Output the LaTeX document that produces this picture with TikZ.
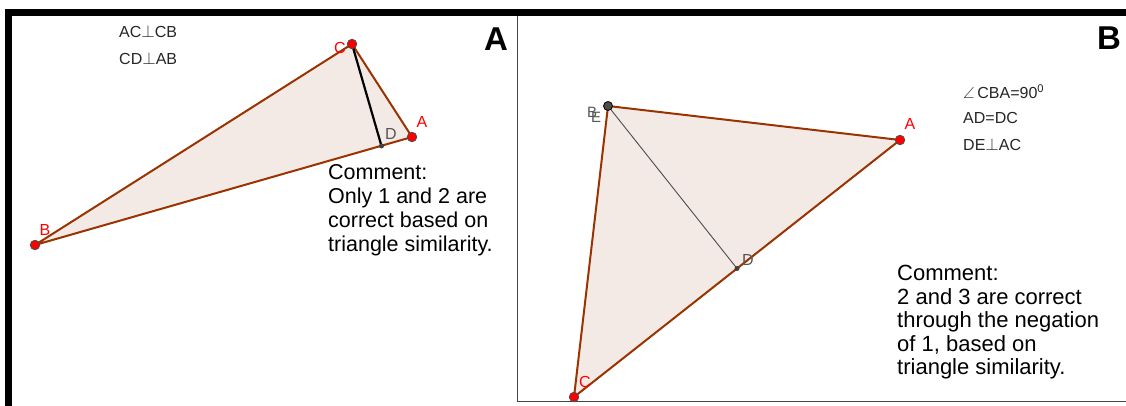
\documentclass[tikz,border=0pt]{standalone}
\usepackage{amsmath, amssymb}
\usepackage{fontspec}
\setmainfont{Liberation Sans}
\usepackage{xcolor}
\usepackage{tikz}
\definecolor{brunligne}{RGB}{153, 51, 0}
\definecolor{rosepale}{RGB}{244, 234, 229}
\definecolor{rougepoint}{RGB}{255, 0, 0}
\definecolor{grisetiquette}{RGB}{85, 85, 85}
\definecolor{griscadre}{RGB}{70, 70, 70}

\begin{document}
\begin{tikzpicture}[x=1pt, y=-1pt,
  cote/.style={draw=brunligne, line width=2pt, fill=rosepale, line join=round},
  pointrouge/.style={circle, draw=black!70, fill=rougepoint, line width=0.8pt,
                     inner sep=0pt, minimum size=9.5pt},
  pointsombre/.style={circle, draw=black, fill=black!70, line width=0.8pt,
                      inner sep=0pt, minimum size=9pt},
  pointpetit/.style={circle, fill=black!75, inner sep=0pt, minimum size=5pt},
  lettrerouge/.style={text=rougepoint, font=\fontsize{16}{16}\selectfont, inner sep=0pt},
  lettregrise/.style={text=grisetiquette, font=\fontsize{16}{16}\selectfont, inner sep=0pt},
  hypothese/.style={anchor=base west, inner sep=0pt, text=black!85,
                    font=\fontsize{16}{16}\selectfont},
  commentaire/.style={anchor=north west, inner sep=0pt, align=left},
  titre/.style={anchor=base, inner sep=0pt, font=\fontsize{33}{33}\selectfont\bfseries}]
  \useasboundingbox (0,0) rectangle (1126,406);

  % cadre
  \fill[black] (5,9) rectangle (1126,16);
  \fill[black] (5,9) rectangle (12,406);
  \draw[griscadre, line width=1pt] (517,16) -- (517,401.5) -- (1126,401.5);

  % figure A
  \coordinate (Ca) at (352,44);
  \coordinate (Aa) at (412,137);
  \coordinate (Ba) at (35,245);
  \coordinate (Da) at (381.5,146);
  \draw[cote] (Ba) -- (Ca) -- (Aa) -- cycle;
  \draw[line width=2.2pt] (Ca) -- (Da);
  \node[pointrouge] (ptCa) at (Ca) {};
  \node[pointrouge] (ptAa) at (Aa) {};
  \node[pointrouge] (ptBa) at (Ba) {};
  \node[pointpetit] (ptDa) at (Da) {};
  \node[lettrerouge] (nomCa) at (340,48) {C};
  \node[lettrerouge] (nomAa) at (422,122) {A};
  \node[lettrerouge] (nomBa) at (45,230) {B};
  \node[lettregrise] (nomDa) at (391,134) {D};
  \node[hypothese] (hypA1) at (119,38) {AC$\perp$CB};
  \node[hypothese] (hypA2) at (119,65) {CD$\perp$AB};
  \node[titre] (titreA) at (496,51) {A};
  \node[commentaire, font=\fontsize{21.5}{24}\selectfont] (commA) at (328,164)
    {Comment:\\ Only 1 and 2 are\\ correct based on\\ triangle similarity.};

  % figure B
  \coordinate (Bb) at (608,106);
  \coordinate (Ab) at (900,140);
  \coordinate (Cb) at (574,397);
  \coordinate (Db) at (737,268.5);
  \draw[cote] (Bb) -- (Ab) -- (Cb) -- cycle;
  \draw[black!70, line width=0.9pt] (Bb) -- (Db);
  \node[pointsombre] (ptBb) at (Bb) {};
  \node[pointrouge] (ptAb) at (Ab) {};
  \node[pointrouge] (ptCb) at (Cb) {};
  \node[pointpetit] (ptDb) at (Db) {};
  \node[lettregrise, font=\fontsize{15}{15}\selectfont] (nomBb) at (592,112) {B};
  \node[lettregrise, font=\fontsize{15}{15}\selectfont] (nomEb) at (596,117) {E};
  \node[lettrerouge] (nomAb) at (910,124) {A};
  \node[lettrerouge] (nomCb) at (585,382) {C};
  \node[lettregrise] (nomDb) at (748,260) {D};
  \node[hypothese] (hypB1) at (963,99) {$\angle$\,CBA=90\textsuperscript{0}};
  \node[hypothese] (hypB2) at (963,124) {AD=DC};
  \node[hypothese] (hypB3) at (963,151) {DE$\perp$AC};
  \node[titre] (titreB) at (1109,50) {B};
  \node[commentaire, font=\fontsize{22}{23.5}\selectfont] (commB) at (897,265)
    {Comment:\\ 2 and 3 are correct\\ through the negation\\ of 1, based on\\ triangle similarity.};
\end{tikzpicture}
\end{document}
